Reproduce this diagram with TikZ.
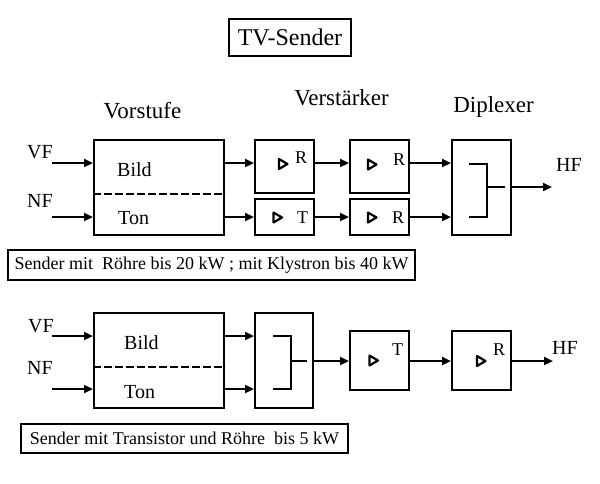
\documentclass[tikz,border=0pt]{standalone}
\usepackage{fontspec}
\setmainfont{Liberation Serif}
\usetikzlibrary{arrows.meta,calc}
\begin{document}
\begin{tikzpicture}[
  x=1pt, y=-1pt,
  blk/.style={draw, line width=2pt, inner sep=0pt},
  arr/.style={line width=2.2pt, -{Triangle[length=9pt,width=8pt]}},
  wire/.style={line width=2.2pt},
  dashline/.style={line width=1.6pt, dash pattern=on 8pt off 3pt},
  lbl/.style={font=\fontsize{20}{24}\selectfont, anchor=base west, inner sep=0pt},
  head/.style={font=\fontsize{23}{27}\selectfont, anchor=base, inner sep=0pt},
  sml/.style={font=\fontsize{18}{21}\selectfont, anchor=base west, inner sep=0pt},
  capbox/.style={blk, font=\fontsize{18}{21}\selectfont},
  amptri/.pic={\draw[line width=2.2pt, line join=round] (-4,-5) -- (4.5,0) -- (-4,5) -- cycle;}
]
\useasboundingbox (0,0) rectangle (600,483);

% ---------- title ----------
\node[blk, minimum width=122pt, minimum height=37pt, font=\fontsize{24}{28}\selectfont] (title) at (290,37.5) {TV-Sender};

% ---------- headings ----------
\node[head] (hvor) at (142.5,118) {Vorstufe};
\node[head] (hver) at (341.5,105) {Verstärker};
\node[head] (hdip) at (493.5,112) {Diplexer};

% ---------- upper chain ----------
\node[blk, minimum width=130pt, minimum height=95pt] (vor1) at (159,187.5) {};
\node[blk, minimum width=59pt, minimum height=53pt] (a1) at (284.5,166.5) {};
\node[blk, minimum width=59pt, minimum height=36pt] (t1) at (284.5,217) {};
\node[blk, minimum width=59pt, minimum height=53pt] (a2) at (379.5,166.5) {};
\node[blk, minimum width=59pt, minimum height=36pt] (r2) at (379.5,217) {};
\node[blk, minimum width=59pt, minimum height=95pt] (dip) at (481.5,187.5) {};

\draw[dashline] (vor1.west |- 0,194) -- (vor1.east |- 0,194);

\node[lbl] (vf1t) at (27,158) {VF};
\node[lbl] (nf1t) at (27,207) {NF};
\node[lbl] (bild1) at (117,176) {Bild};
\node[lbl] (ton1) at (118,224) {Ton};

\coordinate (vf1) at (52,163);
\coordinate (nf1) at (52,217);
\draw[arr] (vf1) -- (vf1 -| vor1.west);
\draw[arr] (nf1) -- (nf1 -| vor1.west);
\draw[arr] (vf1 -| vor1.east) -- (vf1 -| a1.west);
\draw[arr] (nf1 -| vor1.east) -- (nf1 -| t1.west);
\draw[arr] (vf1 -| a1.east) -- (vf1 -| a2.west);
\draw[arr] (nf1 -| t1.east) -- (nf1 -| r2.west);
\draw[arr] (vf1 -| a2.east) -- (vf1 -| dip.west);
\draw[arr] (nf1 -| r2.east) -- (nf1 -| dip.west);
\coordinate (hfo1) at (552,187);
\draw[arr] (dip.east |- hfo1) -- (hfo1);
\node[lbl] (hf1) at (556,171) {HF};

% diplexer inner lines
\draw[wire] (469,164) -- (487,164) -- (487,217) -- (469,217);
\draw[wire] (487,187) -- (505,187);

% amplifier symbols
\pic at (283,164) {amptri};
\pic at (277.5,217.5) {amptri};
\pic at (372,164.5) {amptri};
\pic at (372,217.5) {amptri};
\node[sml] (ra1) at (295,163) {R};
\node[sml] (ra2) at (393,165) {R};
\node[sml] (tt1) at (297,223) {T};
\node[sml] (rr2) at (392,223) {R};

% caption 1
\node[capbox, minimum width=407pt, minimum height=30pt] (cap1) at (211.5,265) {Sender mit~ Röhre bis 20 kW ; mit Klystron bis 40 kW};

% ---------- lower chain ----------
\node[blk, minimum width=130pt, minimum height=95pt] (vor2) at (159,360.5) {};
\node[blk, minimum width=58pt, minimum height=95pt] (comb) at (284,360.5) {};
\node[blk, minimum width=59pt, minimum height=59pt] (tb) at (379.5,360.5) {};
\node[blk, minimum width=59pt, minimum height=59pt] (rb) at (481.5,360.5) {};

\draw[dashline] (vor2.west |- 0,367) -- (vor2.east |- 0,367);

\node[lbl] (vf2t) at (28,332) {VF};
\node[lbl] (nf2t) at (27,374) {NF};
\node[lbl] (bild2) at (124,349) {Bild};
\node[lbl] (ton2) at (124,398) {Ton};

\coordinate (vf2) at (52,336);
\coordinate (nf2) at (52,389);
\draw[arr] (vf2) -- (vf2 -| vor2.west);
\draw[arr] (nf2) -- (nf2 -| vor2.west);
\draw[arr] (vf2 -| vor2.east) -- (vf2 -| comb.west);
\draw[arr] (nf2 -| vor2.east) -- (nf2 -| comb.west);

\draw[wire] (273,336) -- (291,336) -- (291,389) -- (273,389);
\draw[wire] (291,361) -- (307,361);

\coordinate (mid2) at (0,361);
\draw[arr] (comb.east |- mid2) -- (tb.west |- mid2);
\draw[arr] (tb.east |- mid2) -- (rb.west |- mid2);
\coordinate (hfo2) at (553,361);
\draw[arr] (rb.east |- hfo2) -- (hfo2);
\node[lbl] (hf2) at (552,354) {HF};

\pic at (373.5,360.5) {amptri};
\pic at (481,361) {amptri};
\node[sml] (tt2) at (392,355) {T};
\node[sml] (rb2) at (493,355) {R};

% caption 2
\node[capbox, minimum width=327pt, minimum height=29pt] (cap2) at (184.5,438.5) {Sender mit Transistor und Röhre~ bis 5 kW};
\end{tikzpicture}
\end{document}
